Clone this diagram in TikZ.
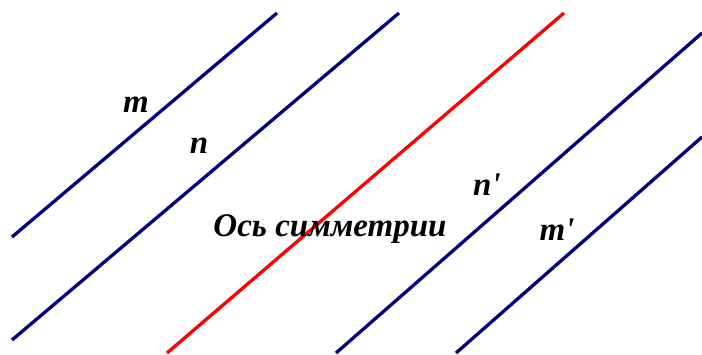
\documentclass[tikz,border=0pt]{standalone}
\usepackage{fontspec}
\setmainfont{Liberation Serif}
\begin{document}
\begin{tikzpicture}[x=1pt, y=-1pt]
        \useasboundingbox (0,0) rectangle (702,354);
        \tikzset{
            parline/.style={blue!50!black, line width=3.3pt},
            axisline/.style={red, line width=3.3pt},
            lbl/.style={font=\fontsize{33}{38}\selectfont\bfseries\itshape, inner sep=0pt}
        }

        % ===== lines on the left =====
        \draw[parline] (12,237) -- (277,13);
        \draw[parline] (12,340) -- (399,13);

        % ===== axis of symmetry =====
        \draw[axisline] (167,353) -- (564,13);

        % ===== mirrored lines =====
        \draw[parline] (336,353) -- (702,33);
        \draw[parline] (456,353) -- (702,137);

        % ===== labels =====
        \node[lbl] (labm) at (136,105) {m};
        \node[lbl] (labn) at (199,146) {n};
        \node[lbl] (labnp) at (487,185) {n\textquotesingle};
        \node[lbl] (labmp) at (557,230) {m\textquotesingle};
        \node[lbl] (labaxis) at (330,229) {Ось симметрии};
    \end{tikzpicture}
\end{document}
